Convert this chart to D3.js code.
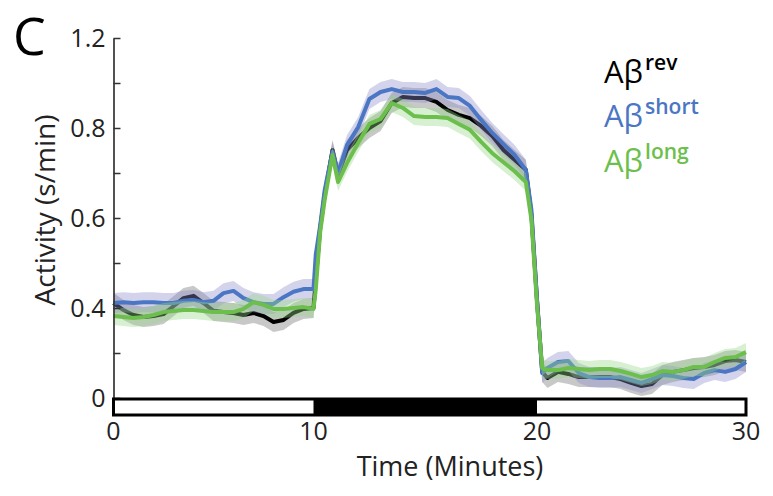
<!DOCTYPE html>
<html>
<head>
<meta charset="utf-8">
<script src="https://cdn.jsdelivr.net/npm/d3@7"></script>
<style>
  html, body { margin: 0; padding: 0; background: #fff; }
  text { font-family: "Open Sans", "DejaVu Sans", sans-serif; }
</style>
</head>
<body>
<svg id="chart" width="773" height="496"></svg>
<script>
// ---------- data ----------
const times = [
  0,0.5,1,1.5,2,2.5,3,3.5,4,4.5,5,5.5,6,6.5,7,7.5,8,8.5,9,9.5,10,
  10.1,10.3,10.5,10.85,11.1,
  11.5,12,12.5,13,13.5,14,14.5,15,15.5,16,16.5,17,17.5,18,18.5,19,19.5,
  19.75,20,20.25,20.5,
  21,21.5,22,22.5,23,23.5,24,24.5,25,25.5,26,26.5,27,27.5,28,28.5,29,29.5,30
];
const revValues = [
  0.411,0.391,0.369,0.360,0.364,0.373,0.404,0.422,0.427,0.411,0.387,0.382,0.378,0.369,0.378,0.364,0.338,0.347,0.378,0.396,0.400,
  0.462,0.578,0.651,0.751,0.696,
  0.751,0.778,0.800,0.831,0.911,0.938,0.933,0.933,0.916,0.880,0.858,0.844,0.809,0.782,0.751,0.729,0.707,
  0.607,0.418,0.116,0.089,
  0.116,0.107,0.093,0.093,0.093,0.093,0.084,0.067,0.053,0.062,0.102,0.116,0.124,0.133,0.138,0.147,0.164,0.169,0.160
];
const shortValues = [
  0.411,0.413,0.411,0.413,0.413,0.411,0.411,0.416,0.418,0.413,0.416,0.433,0.438,0.422,0.413,0.409,0.409,0.424,0.436,0.442,0.442,
  0.518,0.584,0.662,0.747,0.700,
  0.762,0.804,0.929,0.960,0.973,0.960,0.960,0.956,0.973,0.938,0.933,0.898,0.836,0.789,0.764,0.740,0.707,
  0.618,0.418,0.111,0.133,
  0.160,0.164,0.111,0.093,0.089,0.089,0.093,0.080,0.067,0.084,0.102,0.098,0.089,0.084,0.111,0.124,0.116,0.129,0.160
];
const longValues = [
  0.364,0.360,0.356,0.360,0.369,0.382,0.387,0.391,0.391,0.387,0.382,0.382,0.382,0.396,0.413,0.407,0.396,0.396,0.400,0.402,0.396,
  0.440,0.569,0.640,0.740,0.680,
  0.722,0.767,0.818,0.840,0.911,0.889,0.853,0.849,0.849,0.844,0.818,0.796,0.769,0.744,0.724,0.704,0.680,
  0.596,0.407,0.133,0.124,
  0.124,0.133,0.129,0.124,0.129,0.129,0.120,0.107,0.093,0.102,0.120,0.116,0.124,0.138,0.138,0.160,0.178,0.182,0.204
];
const seriesNames = ["rev", "short", "long"];
const xTickValues = [0, 10, 20, 30];
const yTickValues = [0, 0.2, 0.4, 0.5, 0.6, 0.7, 0.8, 1.0, 1.2];
const yLabelValues = [0, 0.4, 0.6, 0.8, 1.2];
const stimStart = 10, stimEnd = 20;

// ---------- styles ----------
const lineColors = { rev: "#000000", short: "#4a76c3", long: "#6cbf4c" };
const bandColors = { rev: "rgba(110,110,110,0.38)", short: "rgba(140,140,205,0.38)", long: "rgba(150,215,135,0.38)" };
const bandHalf = { rev: 10, short: 10, long: 9 };
const textColor = "#222";

const svg = d3.select("#chart");
const axisX = 113.5, plotTop = 38, plotBottom = 398;

// y scale: label positions are equally spaced
const y = d3.scaleLinear()
  .domain(yLabelValues)
  .range(yLabelValues.map((d, i) => plotBottom - i * (plotBottom - plotTop) / (yLabelValues.length - 1)));

// x scale: tick labels at bar-segment edges
const x = d3.scaleLinear()
  .domain(xTickValues)
  .range([113.5, 313.5, 537, 746]);

const data = { rev: revValues, short: shortValues, long: longValues };

// bands and lines
seriesNames.forEach(name => {
  const vals = data[name];
  const pts = times.map((t, i) => ({ t, v: vals[i] }));
  const h = bandHalf[name];
  svg.append("path")
    .datum(pts)
    .attr("fill", bandColors[name])
    .attr("d", d3.area()
      .x(d => x(d.t))
      .y0(d => y(d.v) + h)
      .y1(d => y(d.v) - h));
  svg.append("path")
    .datum(pts)
    .attr("fill", "none")
    .attr("stroke", lineColors[name])
    .attr("stroke-width", 4)
    .attr("stroke-linejoin", "round")
    .attr("d", d3.line().x(d => x(d.t)).y(d => y(d.v)));
});

// y axis
const yAxis = d3.axisLeft(y)
  .tickValues(yTickValues)
  .tickSizeInner(-7)
  .tickSizeOuter(0)
  .tickPadding(8)
  .tickFormat(d => yLabelValues.includes(d) ? (d === 0 ? "0" : d3.format(".1f")(d)) : "");
const gy = svg.append("g").attr("transform", `translate(${axisX},0)`).call(yAxis);
gy.select(".domain").attr("stroke", "#333").attr("stroke-width", 1.7);
gy.selectAll(".tick line").attr("stroke", "#333").attr("stroke-width", 1.5);
gy.selectAll(".tick text")
  .attr("fill", textColor)
  .style("font-size", "25px")
  .style("font-family", "'Open Sans', sans-serif");

// stimulus bar
const barY = 399, barH = 16;
svg.append("rect")
  .attr("x", x(0)).attr("y", barY)
  .attr("width", x(30) - x(0)).attr("height", barH)
  .attr("fill", "#fff").attr("stroke", "#000").attr("stroke-width", 3);
svg.append("rect")
  .attr("x", x(stimStart)).attr("y", barY)
  .attr("width", x(stimEnd) - x(stimStart)).attr("height", barH)
  .attr("fill", "#000");

// x tick labels
svg.append("g").selectAll("text")
  .data(xTickValues)
  .join("text")
  .attr("x", d => x(d))
  .attr("y", 440)
  .attr("text-anchor", "middle")
  .attr("fill", textColor)
  .style("font-size", "25px")
  .text(d => d);

// axis titles
svg.append("text")
  .attr("x", 450).attr("y", 476)
  .attr("text-anchor", "middle")
  .attr("fill", textColor)
  .style("font-size", "27px")
  .text("Time (Minutes)");
svg.append("text")
  .attr("transform", "translate(55,210) rotate(-90)")
  .attr("text-anchor", "middle")
  .attr("fill", textColor)
  .style("font-size", "28px")
  .text("Activity (s/min)");

// panel letter
svg.append("text")
  .attr("x", 13).attr("y", 55)
  .attr("fill", "#000")
  .style("font-size", "52px")
  .text("C");

// legend
const legendBaselines = [83, 127, 172];
seriesNames.forEach((name, i) => {
  const t = svg.append("text")
    .attr("x", 604).attr("y", legendBaselines[i])
    .attr("fill", lineColors[name]);
  t.append("tspan").style("font-size", "31px").text("Aβ");
  t.append("tspan")
    .attr("dx", 2).attr("dy", -13)
    .style("font-size", "21px").style("font-weight", 600)
    .text(name);
});
</script>
</body>
</html>
